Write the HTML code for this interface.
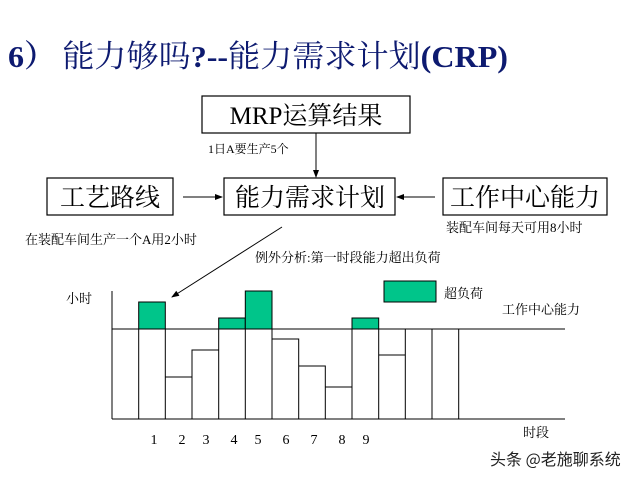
<!DOCTYPE html>
<html><head><meta charset="utf-8"><style>
body{margin:0;background:#fff;width:640px;height:480px;overflow:hidden}
svg{display:block}
text{font-family:"Liberation Serif","Noto Serif CJK SC",serif;fill:#000}
</style></head><body>
<svg width="640" height="480" viewBox="0 0 640 480">
<defs><marker id="ah" markerWidth="8" markerHeight="6" refX="7" refY="3" orient="auto"><path d="M0,0 L8,3 L0,6 z" fill="#000"/></marker></defs>
<text x="8" y="67" font-size="31" textLength="500" lengthAdjust="spacingAndGlyphs" style="fill:#0d1a70"><tspan font-weight="bold">6）</tspan><tspan dx="6">能力够吗</tspan><tspan font-weight="bold">?--</tspan><tspan>能力需求计划</tspan><tspan font-weight="bold">(CRP)</tspan></text>
<g fill="#fff" stroke="#000" stroke-width="1.2">
<rect x="202" y="96" width="208" height="37"/>
<rect x="47" y="178" width="126" height="37"/>
<rect x="224" y="178" width="171" height="37"/>
<rect x="443" y="178" width="164" height="37"/>
</g>
<text x="306" y="124" font-size="25" text-anchor="middle">MRP运算结果</text>
<text x="110" y="206" font-size="25" text-anchor="middle">工艺路线</text>
<text x="310" y="206" font-size="25" text-anchor="middle">能力需求计划</text>
<text x="525" y="206" font-size="25" text-anchor="middle">工作中心能力</text>
<g stroke="#000" stroke-width="1" fill="none">
<line x1="316" y1="133" x2="316" y2="177" marker-end="url(#ah)"/>
<line x1="183" y1="197" x2="222" y2="197" marker-end="url(#ah)"/>
<line x1="435" y1="197" x2="397" y2="197" marker-end="url(#ah)"/>
<line x1="282" y1="227" x2="172" y2="297" marker-end="url(#ah)"/>
</g>
<text x="208" y="153" font-size="12">1日A要生产5个</text>
<text x="25" y="244" font-size="13">在装配车间生产一个A用2小时</text>
<text x="446" y="232" font-size="13">装配车间每天可用8小时</text>
<text x="255" y="262" font-size="13">例外分析:第一时段能力超出负荷</text>
<g fill="#00c58a" stroke="#000" stroke-width="1">
<rect x="138.7" y="302" width="26.6" height="27"/>
<rect x="218.7" y="318" width="26.6" height="11"/>
<rect x="245.3" y="291" width="26.7" height="38"/>
<rect x="352" y="318" width="26.7" height="11"/>
<rect x="384" y="281" width="52" height="21"/>
</g>
<g fill="none" stroke="#000" stroke-width="1">
<line x1="112" y1="291" x2="112" y2="419"/>
<line x1="112" y1="419" x2="565" y2="419"/>
<line x1="112" y1="329" x2="565" y2="329"/>
<path d="M138.7 419V329M165.3 419V329M165.3 377H192V419M192 419V350H218.7V419M218.7 419V329M245.3 419V329M272 419V329M272 339H298.7V419M298.7 366H325.3V419M325.3 387H352V419M352 419V329M378.7 419V329M378.7 355H405.3V419M405.3 419V329M432 419V329M458.7 419V329"/>
</g>
<g font-size="14" text-anchor="middle">
<text x="154" y="444">1</text><text x="182" y="444">2</text><text x="206" y="444">3</text><text x="234" y="444">4</text><text x="258" y="444">5</text><text x="286" y="444">6</text><text x="314" y="444">7</text><text x="342" y="444">8</text><text x="366" y="444">9</text>
</g>
<text x="66" y="303" font-size="13">小时</text>
<text x="444" y="298" font-size="13">超负荷</text>
<text x="502" y="314" font-size="13">工作中心能力</text>
<text x="523" y="437" font-size="13">时段</text>
<text x="490" y="465" font-size="16" style="font-family:'Noto Sans CJK SC',sans-serif;fill:#222">头条 @老施聊系统</text>
</svg>
</body></html>
